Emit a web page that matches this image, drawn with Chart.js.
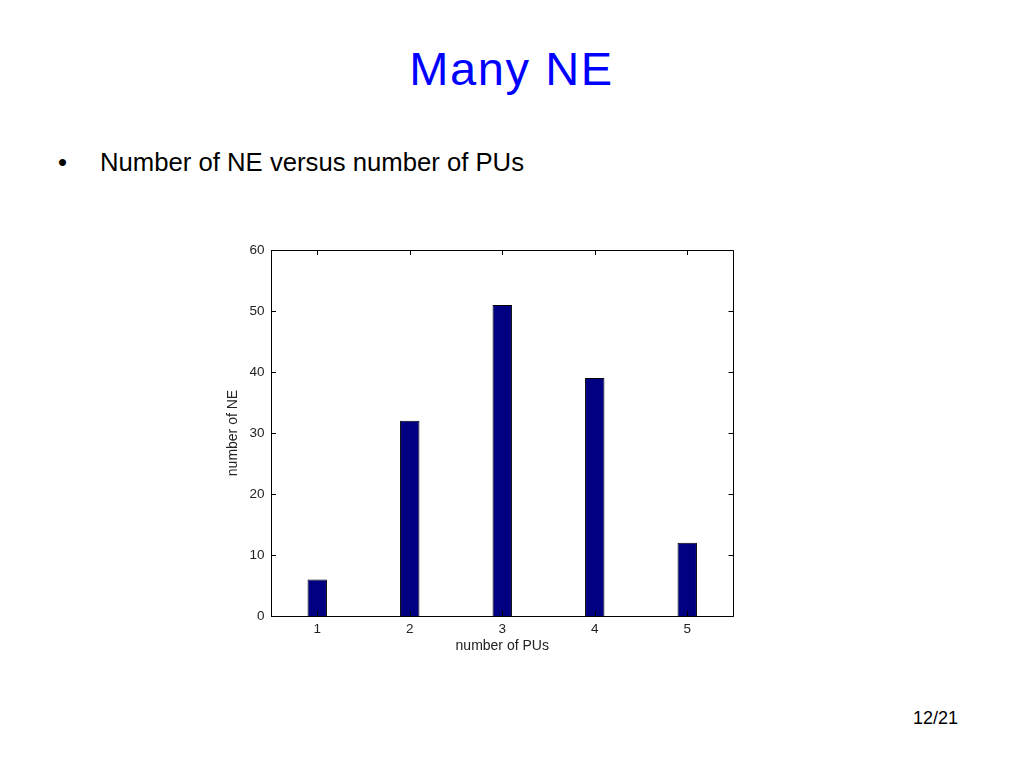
<!DOCTYPE html>
<html>
<head>
<meta charset="utf-8">
<script src="https://cdn.jsdelivr.net/npm/chart.js@4"></script>
<style>
  html, body { margin:0; padding:0; background:#fff; }
  body { width:1024px; height:768px; position:relative; overflow:hidden; font-family:"Liberation Sans", Arial, sans-serif; }
  .t { position:absolute; line-height:1; white-space:nowrap; }
  #title { left:0; width:1023px; text-align:center; top:45px; font-size:47px; color:#0000ff; letter-spacing:1.6px; }
  #bullet { left:58px; top:150px; font-size:25.7px; color:#000; }
  #sub { left:100px; top:150px; font-size:25.7px; color:#000; }
  #page { left:913px; top:708.5px; font-size:18px; color:#000; }
  #c { position:absolute; left:0; top:0; }
</style>
</head>
<body>
<div class="t" id="title">Many NE</div>
<div class="t" id="bullet">•</div>
<div class="t" id="sub">Number of NE versus number of PUs</div>
<div class="t" id="page">12/21</div>
<canvas id="c" width="1024" height="768"></canvas>
<script>
const categories = ["1", "2", "3", "4", "5"];
const neCounts = [6, 32, 51, 39, 12];
const yTicks = [0, 10, 20, 30, 40, 50, 60];
const xTitle = "number of PUs";
const yTitle = "number of NE";

const boxTicks = {
  id: 'boxTicks',
  afterDraw(chart) {
    const ctx = chart.ctx;
    const a = chart.chartArea;
    const xs = chart.scales.x, ys = chart.scales.y;
    const len = 5;
    ctx.save();
    ctx.strokeStyle = '#000';
    ctx.lineWidth = 1;
    ctx.beginPath();
    ctx.rect(Math.round(a.left) + 0.5, Math.round(a.top) + 0.5, Math.round(a.right - a.left) - 1, Math.round(a.bottom - a.top));
    ctx.stroke();
    ctx.beginPath();
    xs.ticks.forEach((t, i) => {
      const px = Math.round(xs.getPixelForTick(i)) + 0.5;
      ctx.moveTo(px, a.bottom); ctx.lineTo(px, a.bottom - len);
      ctx.moveTo(px, a.top); ctx.lineTo(px, a.top + len);
    });
    ys.ticks.forEach((t, i) => {
      const py = Math.round(ys.getPixelForTick(i)) + 0.5;
      ctx.moveTo(a.left, py); ctx.lineTo(a.left + len, py);
      ctx.moveTo(a.right, py); ctx.lineTo(a.right - len, py);
    });
    ctx.stroke();
    ctx.restore();
  }
};

new Chart(document.getElementById('c'), {
  type: 'bar',
  data: {
    labels: categories,
    datasets: [{
      data: neCounts,
      backgroundColor: '#000080',
      borderColor: '#000000',
      borderWidth: 1,
      categoryPercentage: 1,
      barPercentage: 0.21
    }]
  },
  options: {
    responsive: false,
    animation: false,
    events: [],
    layout: { padding: { left: 225.1, top: 250, right: 290.5, bottom: 113.6 } },
    plugins: { legend: { display: false }, tooltip: { enabled: false } },
    scales: {
      x: {
        type: 'category',
        offset: true,
        grid: { display: false, drawTicks: false },
        border: { display: false },
        ticks: { color: '#222', padding: 5, font: { family: 'Liberation Sans', size: 13.5 }, maxRotation: 0 },
        title: { display: true, text: xTitle, color: '#222', padding: 0, font: { family: 'Liberation Sans', size: 14 } },
        afterFit(s) { s.height = 38.4; }
      },
      y: {
        min: 0, max: 60,
        afterBuildTicks(s) { s.ticks = yTicks.map(v => ({ value: v })); },
        grid: { display: false, drawTicks: false },
        border: { display: false },
        ticks: { color: '#222', padding: 6.5, font: { family: 'Liberation Sans', size: 13.5 } },
        title: { display: true, text: yTitle, color: '#222', padding: 0, font: { family: 'Liberation Sans', size: 14 } },
        afterFit(s) { s.width = 45.9; }
      }
    }
  },
  plugins: [boxTicks]
});
</script>
</body>
</html>
